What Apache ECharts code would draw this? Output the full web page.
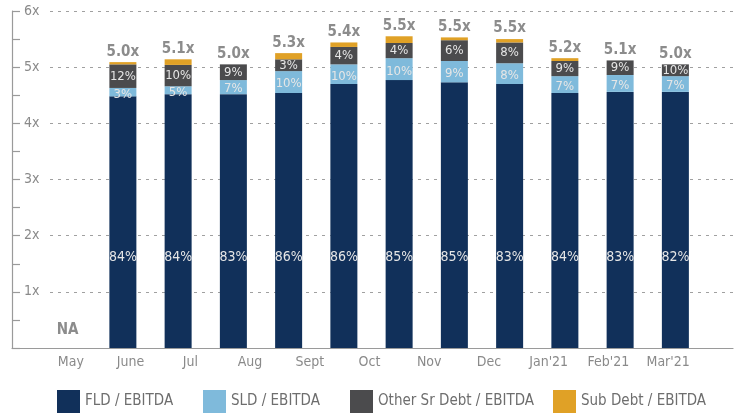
<!DOCTYPE html>
<html><head><meta charset="utf-8">
<script src="https://cdn.jsdelivr.net/npm/echarts@6/dist/echarts.min.js"></script>
<style>html,body{margin:0;padding:0;background:#fff}#c{width:740px;height:413px}</style>
</head><body><div id="c"></div>
<script>
const monthLabels = ['May', 'June', 'Jul', 'Aug', 'Sept', 'Oct', 'Nov', 'Dec', "Jan'21", "Feb'21", "Mar'21"];
const yTickLabels = ['', '1x', '2x', '3x', '4x', '5x', '6x'];
const seriesNames = ['FLD / EBITDA', 'SLD / EBITDA', 'Other Sr Debt / EBITDA', 'Sub Debt / EBITDA'];
// bar slots (first slot = NA)
const fld     = [null, 4.48, 4.52, 4.52, 4.54, 4.70, 4.77, 4.73, 4.70, 4.54, 4.56, 4.56];
const sld     = [null, 0.15, 0.14, 0.25, 0.39, 0.35, 0.39, 0.38, 0.37, 0.30, 0.30, 0.28];
const otherSr = [null, 0.42, 0.38, 0.28, 0.21, 0.31, 0.27, 0.37, 0.37, 0.27, 0.26, 0.21];
const subDebt = [0,    0.04, 0.10, 0,    0.11, 0.08, 0.12, 0.05, 0.06, 0.05, 0,    0];
const totalLabels = ['NA', '5.0x', '5.1x', '5.0x', '5.3x', '5.4x', '5.5x', '5.5x', '5.5x', '5.2x', '5.1x', '5.0x'];
const fldPct   = ['', '84%', '84%', '83%', '86%', '86%', '85%', '85%', '83%', '84%', '83%', '82%'];
const sldPct   = ['', '3%', '5%', '7%', '10%', '10%', '10%', '9%', '8%', '7%', '7%', '7%'];
const otherPct = ['', '12%', '10%', '9%', '3%', '4%', '4%', '6%', '8%', '9%', '9%', '10%'];

const FONT = "'DejaVu Sans Condensed', 'DejaVu Sans', sans-serif";
const colors = ['#11305a', '#7fbadb', '#4b4b4d', '#e0a126'];
const TOP = 11, BOTTOM = 65;

const chart = echarts.init(document.getElementById('c'), null, {renderer: 'canvas'});
const hiddenVal = (gi) => ({type: 'value', gridIndex: gi, min: 0, max: 1, show: false});
const yBase = (gi) => ({type: 'value', gridIndex: gi, min: 0, max: 6, interval: 1});
const inLabel = {show: true, color: '#e6e6e6', fontFamily: FONT, fontSize: 13};

const slots = totalLabels.map((_, i) => i);

const option = {
  animation: false,
  grid: [
    {left: 12, right: 7, top: TOP, bottom: BOTTOM},
    {left: 50, right: 5, top: TOP, bottom: BOTTOM},
    {left: 40, right: 37, top: TOP, bottom: BOTTOM},
    {left: 41, right: 42, top: TOP, bottom: BOTTOM}
  ],
  xAxis: [
    {type: 'value', gridIndex: 0, min: 0, max: 1, axisLine: {show: true, lineStyle: {color: '#9a9a9a', width: 1.2}},
      axisTick: {show: false}, axisLabel: {show: false}, splitLine: {show: false}},
    hiddenVal(1),
    {type: 'category', gridIndex: 2, data: slots, show: false},
    {type: 'category', gridIndex: 3, data: monthLabels, axisLine: {show: false}, axisTick: {show: false},
      axisLabel: {interval: 0, color: '#8a8a8a', fontSize: 14, fontFamily: FONT, margin: 7}}
  ],
  yAxis: [
    Object.assign(yBase(0), {
      axisLine: {show: true, lineStyle: {color: '#9a9a9a', width: 1.2}},
      axisTick: {show: true, inside: true, length: 8, lineStyle: {color: '#9a9a9a', width: 1.2}},
      minorTick: {show: true, splitNumber: 2, length: 8, lineStyle: {color: '#9a9a9a', width: 1.2}},
      axisLabel: {inside: true, margin: 12, color: '#8a8a8a', fontSize: 14, fontFamily: FONT,
        formatter: (v) => yTickLabels[Math.round(v)]},
      splitLine: {show: false}
    }),
    Object.assign(yBase(1), {
      axisLine: {show: false}, axisTick: {show: false}, axisLabel: {show: false},
      splitLine: {show: true, showMinLine: false, lineStyle: {color: '#a0a0a0', type: [3, 5], width: 1.2}}
    }),
    Object.assign(yBase(2), {show: false, splitLine: {show: false}}),
    Object.assign(yBase(3), {show: false, splitLine: {show: false}})
  ],
  legend: seriesNames.map((n, i) => ({
    data: [n], left: [57, 203, 350, 553][i], top: 390, itemWidth: 23, itemHeight: 23, icon: 'rect',
    itemGap: 0, padding: 0, selectedMode: false,
    textStyle: {color: '#6e6e6e', fontSize: 15, fontFamily: FONT}
  })),
  series: [
    {name: seriesNames[0], type: 'bar', stack: 's', xAxisIndex: 2, yAxisIndex: 2, barWidth: 27, data: fld,
      itemStyle: {color: colors[0]},
      label: Object.assign({}, inLabel, {fontSize: 14, position: 'insideBottom', distance: 84, formatter: p => fldPct[p.dataIndex]})},
    {name: seriesNames[1], type: 'bar', stack: 's', xAxisIndex: 2, yAxisIndex: 2, barWidth: 27, data: sld,
      itemStyle: {color: colors[1]},
      label: Object.assign({}, inLabel, {position: 'inside', offset: [0, 2], formatter: p => sldPct[p.dataIndex]})},
    {name: seriesNames[2], type: 'bar', stack: 's', xAxisIndex: 2, yAxisIndex: 2, barWidth: 27, data: otherSr,
      itemStyle: {color: colors[2]},
      label: Object.assign({}, inLabel, {position: 'inside', formatter: p => otherPct[p.dataIndex]})},
    {name: seriesNames[3], type: 'bar', stack: 's', xAxisIndex: 2, yAxisIndex: 2, barWidth: 27,
      data: subDebt.map((v, i) => i === 0 ? {value: v, label: {distance: 10}} : v),
      itemStyle: {color: colors[3]},
      label: {show: true, position: 'top', distance: 3, color: '#8c8c8c', fontSize: 15, fontWeight: 'bold',
        fontFamily: FONT, formatter: p => totalLabels[p.dataIndex]}}
  ]
};
chart.setOption(option);
</script>
</body></html>
